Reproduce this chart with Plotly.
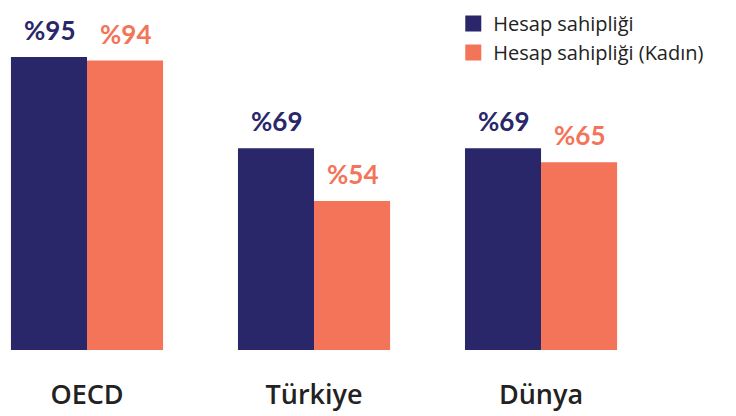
import plotly.graph_objects as go

categories = ["OECD", "Türkiye", "Dünya"]
series_names = ["Hesap sahipliği", "Hesap sahipliği (Kadın)"]
values_total = [95, 69, 69]
values_women = [94, 54, 65]
colors = ["#29266a", "#f37458"]

x_idx = list(range(len(categories)))
half = 0.1674

fig = go.Figure()
for k, (name, vals, col, off) in enumerate([(series_names[0], values_total, colors[0], -half),
                                            (series_names[1], values_women, colors[1], half)]):
    fig.add_trace(go.Bar(
        x=x_idx, y=vals, name=name, marker=dict(color=col, line=dict(width=0)),
        hoverinfo="skip", showlegend=False,
    ))
    fig.add_trace(go.Scatter(
        x=[None], y=[None], mode="markers", name=name, legendgroup=f"g{k}",
        marker=dict(symbol="square", size=19, color=col, line=dict(width=0)),
    ))
    for i, v in zip(x_idx, vals):
        fig.add_annotation(
            x=i + off, y=v, xref="x", yref="y", text=f"%{v}", showarrow=False,
            yanchor="bottom", yshift=9,
            font=dict(family="Lato", size=26, color=col, weight="bold"),
        )

fig.update_layout(
    width=736, height=416,
    margin=dict(l=0, r=0, t=0, b=74, autoexpand=False),
    plot_bgcolor="white", paper_bgcolor="white",
    barmode="group", bargap=0.33, bargroupgap=0,
    showlegend=True,
    legend=dict(x=0.605, y=1.012, xanchor="left", yanchor="top",
                font=dict(family="Open Sans", size=20, color="#222222"),
                itemwidth=30, tracegroupgap=0, bgcolor="rgba(0,0,0,0)"),
    xaxis=dict(range=[-0.348, 2.894], tickvals=x_idx, ticktext=categories,
               showgrid=False, zeroline=False, showline=False, ticks="",
               ticklabelstandoff=26, automargin=False,
               tickfont=dict(family="Open Sans", size=27, color="#222222", weight=600)),
    yaxis=dict(range=[11.5, 109.0], visible=False, automargin=False),
)

fig.write_html("out.html")
